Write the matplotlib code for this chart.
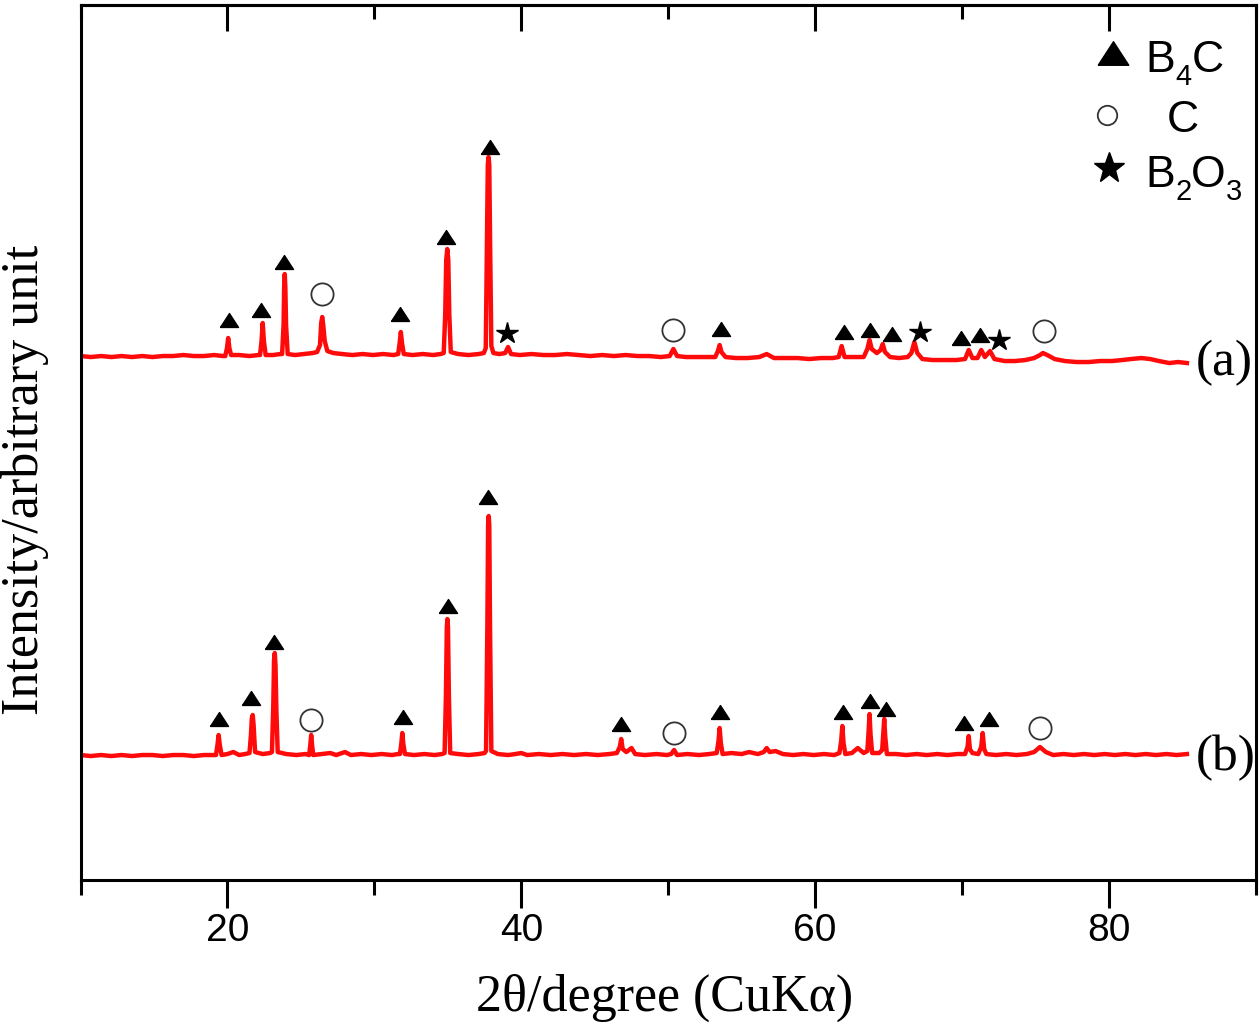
import matplotlib
matplotlib.use("Agg")
import matplotlib.pyplot as plt
from matplotlib.ticker import MultipleLocator

# XRD pattern (a): 2theta and intensity above its own baseline (a.u.)
tt_a = [10.0, 10.7, 11.4, 12.1, 12.8, 13.5, 14.2, 14.9, 15.6, 16.3, 17.0, 17.7, 18.4, 19.1, 19.7,
        19.85, 19.97, 20.05, 20.13, 20.25, 20.8, 21.5, 22.1,
        22.22, 22.32, 22.4, 22.48, 22.6, 23.1, 23.6,
        23.72, 23.82, 23.86, 23.9, 23.94, 23.99, 24.1, 24.6, 25.2, 25.8, 26.1,
        26.3, 26.38, 26.45, 26.52, 26.62, 26.8, 27.2, 27.8, 28.5, 29.2, 29.9, 30.6, 31.3,
        31.62, 31.72, 31.8, 31.88, 32.0, 32.6, 33.3, 34.0, 34.5,
        34.72, 34.82, 34.89, 34.96, 35.03, 35.1, 35.2, 35.7, 36.4, 37.1, 37.45,
        37.58, 37.67, 37.72, 37.77, 37.82, 37.87, 37.96, 38.1, 38.5, 38.9,
        39.1, 39.3, 39.9, 40.7, 41.5, 42.3, 43.1, 43.9, 44.7, 45.5, 46.3, 47.1, 47.9, 48.7, 49.5, 50.1,
        50.35, 50.6, 51.2, 52.0, 52.7, 53.2,
        53.38, 53.5, 53.62, 53.9, 54.6, 55.4, 56.2, 56.7, 57.2, 58.0, 58.8, 59.6, 60.4, 61.2, 61.6,
        61.8, 62.0, 62.6, 63.3, 63.55, 63.7, 63.85, 64.2, 64.45, 64.6, 64.75, 65.1,
        65.7, 66.3, 66.55, 66.75, 66.95, 67.3, 68.0, 68.8, 69.6, 70.2,
        70.45, 70.7, 71.05, 71.3, 71.55, 71.9, 72.2, 72.9, 73.6, 74.3, 74.9,
        75.3, 75.5, 75.8, 76.3, 77.0, 77.8, 78.6, 79.4, 80.2, 80.9, 81.5, 82.2, 82.8, 83.4, 84.1, 84.7, 85.3]
int_a = [-1, -2, -1, -2, -1, -2, -1, -2, -1, -1, 0, -1, -1, 0, -1,
         -1, 7, 17, 7, 0, 0, -1, 0,
         0, 14, 32, 14, 0, 0, 1,
         1, 30, 68, 81, 68, 30, 1, 0, 1, 2, 3,
         10, 32, 38, 30, 14, 4, 2, 1, 0, 1, 0, 1, 0,
         1, 12, 23, 12, 1, 0, 1, 0, 1,
         2, 40, 95, 106, 95, 40, 3, 1, 0, 1, 2,
         7, 120, 190, 198, 190, 120, 9, 2, 1, 2,
         8, 1, 0, 1, 0, 0, 1, 0, -1, 0, -1, 0, -1, -1, -2, -1,
         6, -1, -2, -2, -2, -2,
         4, 10, 3, -2, -3, -3, -2, 1, -3, -3, -3, -4, -3, -3, -2,
         9, -2, -2, -2, 6, 15, 6, 2, 5, 11, 3, -2,
         -3, -2, 2, 13, 2, -4, -5, -5, -5, -4,
         5, -3, -3, 5, -2, 4, -4, -6, -6, -5, -3,
         0, 2, 0, -4, -6, -7, -7, -6, -6, -5, -4, -3, -4, -6, -8, -7, -8]

# XRD pattern (b)
tt_b = [10.0, 10.7, 11.4, 12.1, 12.8, 13.5, 14.2, 14.9, 15.6, 16.3, 17.0, 17.7, 18.4, 19.0,
        19.22, 19.32, 19.4, 19.48, 19.6, 20.0, 20.4, 20.8, 21.2,
        21.5, 21.6, 21.66, 21.72, 21.78, 21.88, 22.4, 22.9,
        23.03, 23.12, 23.17, 23.22, 23.27, 23.33, 23.42, 24.0, 24.7, 25.3,
        25.56, 25.64, 25.7, 25.76, 25.84, 26.4, 27.0, 27.4, 28.0, 28.4, 29.1, 29.8, 30.5, 31.2, 31.6,
        31.74, 31.83, 31.9, 31.97, 32.08, 32.7, 33.4, 34.1, 34.6,
        34.78, 34.87, 34.93, 34.97, 35.01, 35.07, 35.16, 35.7, 36.4, 37.1, 37.5,
        37.6, 37.69, 37.74, 37.78, 37.82, 37.87, 37.96,
        38.4, 39.1, 39.6, 40.0, 40.4, 41.2, 42.0, 42.8, 43.6, 44.4, 45.2, 46.0, 46.5,
        46.7, 46.8, 46.9, 47.15, 47.5, 47.75, 48.4, 49.2, 49.9,
        50.2, 50.4, 50.6, 51.3, 52.1, 52.8, 53.3,
        53.42, 53.5, 53.58, 53.7, 54.3, 55.0, 55.5, 56.1, 56.5, 56.7, 56.9, 57.3, 57.8,
        58.5, 59.2, 59.9, 60.6, 61.3, 61.65,
        61.77, 61.85, 61.93, 62.05, 62.5, 62.9, 63.3, 63.55,
        63.63, 63.7, 63.77, 63.88, 64.35, 64.56, 64.63, 64.7, 64.77, 64.88,
        65.5, 66.2, 66.9, 67.6, 68.3, 69.0, 69.7, 70.2,
        70.37, 70.45, 70.53, 70.7, 71.1, 71.3, 71.4, 71.5, 71.65,
        72.3, 73.0, 73.7, 74.4, 74.9, 75.3, 75.7, 76.2,
        76.9, 77.6, 78.3, 79.0, 79.7, 80.4, 81.1, 81.8, 82.5, 83.2, 83.9, 84.6, 85.3]
int_b = [0, -1, 0, -1, 0, -1, 0, 0, -1, 0, 0, -1, 0, 0,
         0, 10, 20, 10, 0, 1, 3, 0, 1,
         2, 20, 37, 40, 30, 3, 1, 2,
         3, 50, 95, 102, 90, 45, 3, 1, 0, 1,
         0, 10, 20, 10, 0, 1, 2, 0, 3, 0, 1, 0, 1, 0, 1,
         1, 11, 22, 11, 1, 0, 1, 0, 1,
         2, 60, 128, 136, 128, 60, 2, 1, 0, 1, 2,
         4, 130, 230, 239, 230, 130, 4,
         1, 0, 1, 2, 0, 1, 0, 1, 0, 1, 0, 1, 2,
         8, 16, 6, 3, 7, 1, 0, 1, 0,
         1, 5, 0, 1, 0, 1, 2,
         14, 27, 12, 1, 2, 1, 3, 1, 3, 7, 3, 4, 1,
         0, 1, 0, 1, 0, 2,
         14, 29, 12, 1, 2, 7, 2, 4,
         22, 41, 20, 2, 2, 5, 20, 36, 18, 1,
         1, 0, 1, 0, 1, 0, 1, 1,
         8, 19, 6, 2, 1, 8, 22, 6, 1,
         0, 1, 0, 1, 3, 8, 3, 0,
         1, 0, 1, 0, 1, 0, 1, 0, 1, 0, 1, 0, 1]

# phase marks: 2theta and height above baseline
a_b4c_x = [20.08, 22.26, 23.87, 31.76, 34.88, 37.9, 53.6, 61.95, 63.75, 65.2, 69.9, 71.2]
a_b4c_y = [35, 45, 93, 41, 118, 208, 26, 23, 25, 21, 17, 20]
a_c_x = [26.46, 50.3, 75.55]
a_c_y = [61, 25, 24]
a_b2o3_x = [39.05, 67.15, 72.5]
a_b2o3_y = [22, 23, 15]

b_b4c_x = [19.4, 21.6, 23.2, 31.95, 35.0, 37.75, 46.76, 53.5, 61.9, 63.75, 64.85, 70.1, 71.8]
b_b4c_y = [36, 57, 113, 38, 149, 258, 31, 43, 43, 54, 46, 32, 36]
b_c_x = [25.7, 50.4, 75.3]
b_c_y = [35, 22, 27]

offset_a = 525
offset_b = 125

tri = [(-1, -0.77), (1, -0.77), (0, 0.77), (-1, -0.77)]
RED = "#ff0a0a"

fig = plt.figure(figsize=(12.6, 10.27), dpi=100)
ax = fig.add_axes([0.0639, 0.1431, 0.9329, 0.852])

ax.plot(tt_a, [v + offset_a for v in int_a], color=RED, lw=3.2, solid_joinstyle="round")
ax.plot(tt_b, [v + offset_b for v in int_b], color=RED, lw=3.2, solid_joinstyle="round")

# phase markers
ax.plot(a_b4c_x, [v + offset_a for v in a_b4c_y], ls="none", marker=tri, ms=13, color="black")
ax.plot(b_b4c_x, [v + offset_b for v in b_b4c_y], ls="none", marker=tri, ms=13, color="black")
ax.plot(a_c_x, [v + offset_a for v in a_c_y], ls="none", marker="o", ms=16, mfc="white", mec="#333333", mew=1.3)
ax.plot(b_c_x, [v + offset_b for v in b_c_y], ls="none", marker="o", ms=16, mfc="white", mec="#333333", mew=1.3)
ax.plot(a_b2o3_x, [v + offset_a for v in a_b2o3_y], ls="none", marker="*", ms=16, color="black")

ax.text(85.9, offset_a - 8, "(a)", family="Liberation Serif", fontsize=37, va="center", ha="left")
ax.text(85.9, offset_b - 3, "(b)", family="Liberation Serif", fontsize=37, va="center", ha="left")

# legend: markers + labels with hand-set subscripts
ax.plot([0.878], [0.945], transform=ax.transAxes, marker=tri, ms=22, color="black", ls="none")
ax.plot([0.873], [0.874], transform=ax.transAxes, marker="o", ms=14, mfc="white", mec="#333333", mew=1.3, ls="none")
ax.plot([0.875], [0.814], transform=ax.transAxes, marker="*", ms=23, color="black", ls="none")


def chem_label(x, y, parts):
    # parts: (text, is_subscript); offsets in points along the baseline
    dx = 0.0
    for txt, sub in parts:
        size = 21 if sub else 32
        ax.annotate(txt, xy=(x, y), xycoords="axes fraction",
                    xytext=(dx, -9 if sub else 0), textcoords="offset points",
                    family="Liberation Sans", fontsize=size, va="baseline", ha="left")
        w = {"B": 0.667, "C": 0.722, "O": 0.778}.get(txt, 0.556)
        dx += w * size


chem_label(0.906, 0.923, [("B", False), ("4", True), ("C", False)])
chem_label(0.924, 0.855, [("C", False)])
chem_label(0.906, 0.792, [("B", False), ("2", True), ("O", False), ("3", True)])

ax.set_xlim(10, 90)
ax.set_ylim(0, 875)
ax.xaxis.set_major_locator(MultipleLocator(20))
ax.xaxis.set_minor_locator(MultipleLocator(10))
ax.tick_params(axis="x", which="major", direction="out", length=20, width=2.2, pad=4)
ax.tick_params(axis="x", which="minor", direction="out", length=11, width=2.2)
ax.tick_params(axis="y", left=False, labelleft=False)
for lab in ax.get_xticklabels():
    lab.set_family("Liberation Sans")
    lab.set_fontsize(28)

top = ax.secondary_xaxis("top")
top.xaxis.set_major_locator(MultipleLocator(20))
top.xaxis.set_minor_locator(MultipleLocator(10))
top.tick_params(axis="x", which="major", direction="in", length=19, width=2.2, labeltop=False)
top.tick_params(axis="x", which="minor", direction="in", length=10, width=2.2)

for s in ax.spines.values():
    s.set_linewidth(2.2)
top.spines["top"].set_linewidth(2.2)

ax.set_xlabel("2θ/degree (CuKα)", family="Liberation Serif", fontsize=37.5, va="center")
ax.xaxis.set_label_coords(0.497, -0.135)
ax.set_ylabel("Intensity/arbitrary unit", family="Liberation Serif", fontsize=37.5, va="center")
ax.yaxis.set_label_coords(-0.047, 0.457)

fig.savefig("out.png", dpi=100)
